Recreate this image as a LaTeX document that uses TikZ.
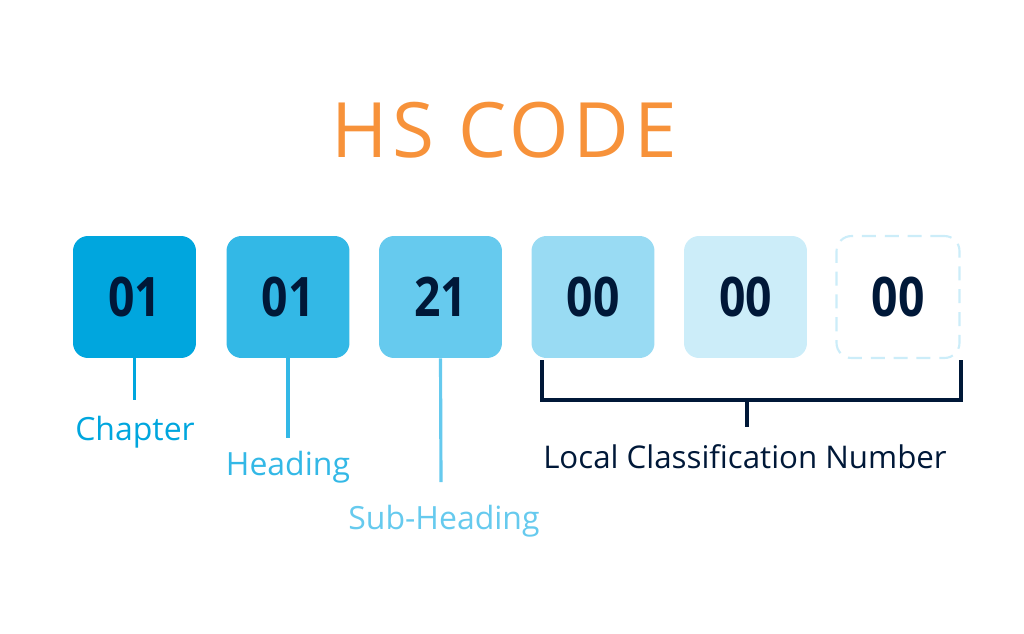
\documentclass[tikz,border=0pt]{standalone}
\usepackage{fontspec}
\setmainfont{Open Sans}
\newfontfamily\digitfont{Open Sans}[FakeStretch=0.85]
\newfontfamily\titlefont{Open Sans}[LetterSpace=6]
\definecolor{hsorange}{RGB}{247,146,58}
\definecolor{hsnavy}{RGB}{0,24,56}
\definecolor{hsA}{RGB}{0,166,222}
\definecolor{hsB}{RGB}{51,184,230}
\definecolor{hsC}{RGB}{102,202,238}
\definecolor{hsD}{RGB}{153,219,243}
\definecolor{hsE}{RGB}{204,237,249}
\tikzset{
  codebox/.style={rounded corners=0.3cm,minimum width=2.46cm,minimum height=2.44cm,inner sep=0pt,
    text=hsnavy,font=\digitfont\bfseries\fontsize{31}{32}\selectfont},
  lbl/.style={anchor=base,inner sep=0pt,font=\fontsize{18.2}{20}\selectfont},
  stem/.style={line width=1.8pt},
  bracket/.style={line width=2pt,draw=hsnavy}
}
\begin{document}
\begin{tikzpicture}[x=0.02cm,y=-0.02cm]
	\useasboundingbox (0,0) rectangle (1024,633);
	\node[anchor=base,inner sep=0pt,text=hsorange,font=\titlefont\fontsize{43.5}{50}\selectfont] (title) at (504,157) {HS CODE};
	% code boxes
	\foreach \i/\x/\col/\num in {1/134.5/hsA/01,2/288/hsB/01,3/440.5/hsC/21,4/593/hsD/00,5/745.5/hsE/00}
		\node[codebox,fill=\col] (b\i) at (\x,297) {\num};
	\node[codebox,fill=white,draw=hsE,line width=1.2pt,dash pattern=on 8pt off 5pt] (b6) at (898,297) {00};
	% labels
	\node[lbl,text=hsA] (chap) at (135,440) {Chapter};
	\node[lbl,text=hsB] (head) at (288,475) {Heading};
	\node[lbl,text=hsC] (sub) at (444,529) {Sub-Heading};
	\coordinate (c1) at (134.5,400);
	\coordinate (c2) at (288,438);
	\coordinate (c3) at (441,482);
	\draw[stem,hsA] (b1.south) -- (c1);
	\draw[stem,hsB] (b2.south) -- (c2);
	\draw[stem,hsC] (b3.south) -- (c3);
	% local part
	\draw[bracket] (542,360) |- (961,400) -- (961,360);
	\draw[bracket] (747,400) -- (747,427);
	\node[lbl,text=hsnavy,font=\fontsize{17.8}{20}\selectfont] (local) at (745,468) {Local Classification Number};
\end{tikzpicture}
\end{document}
